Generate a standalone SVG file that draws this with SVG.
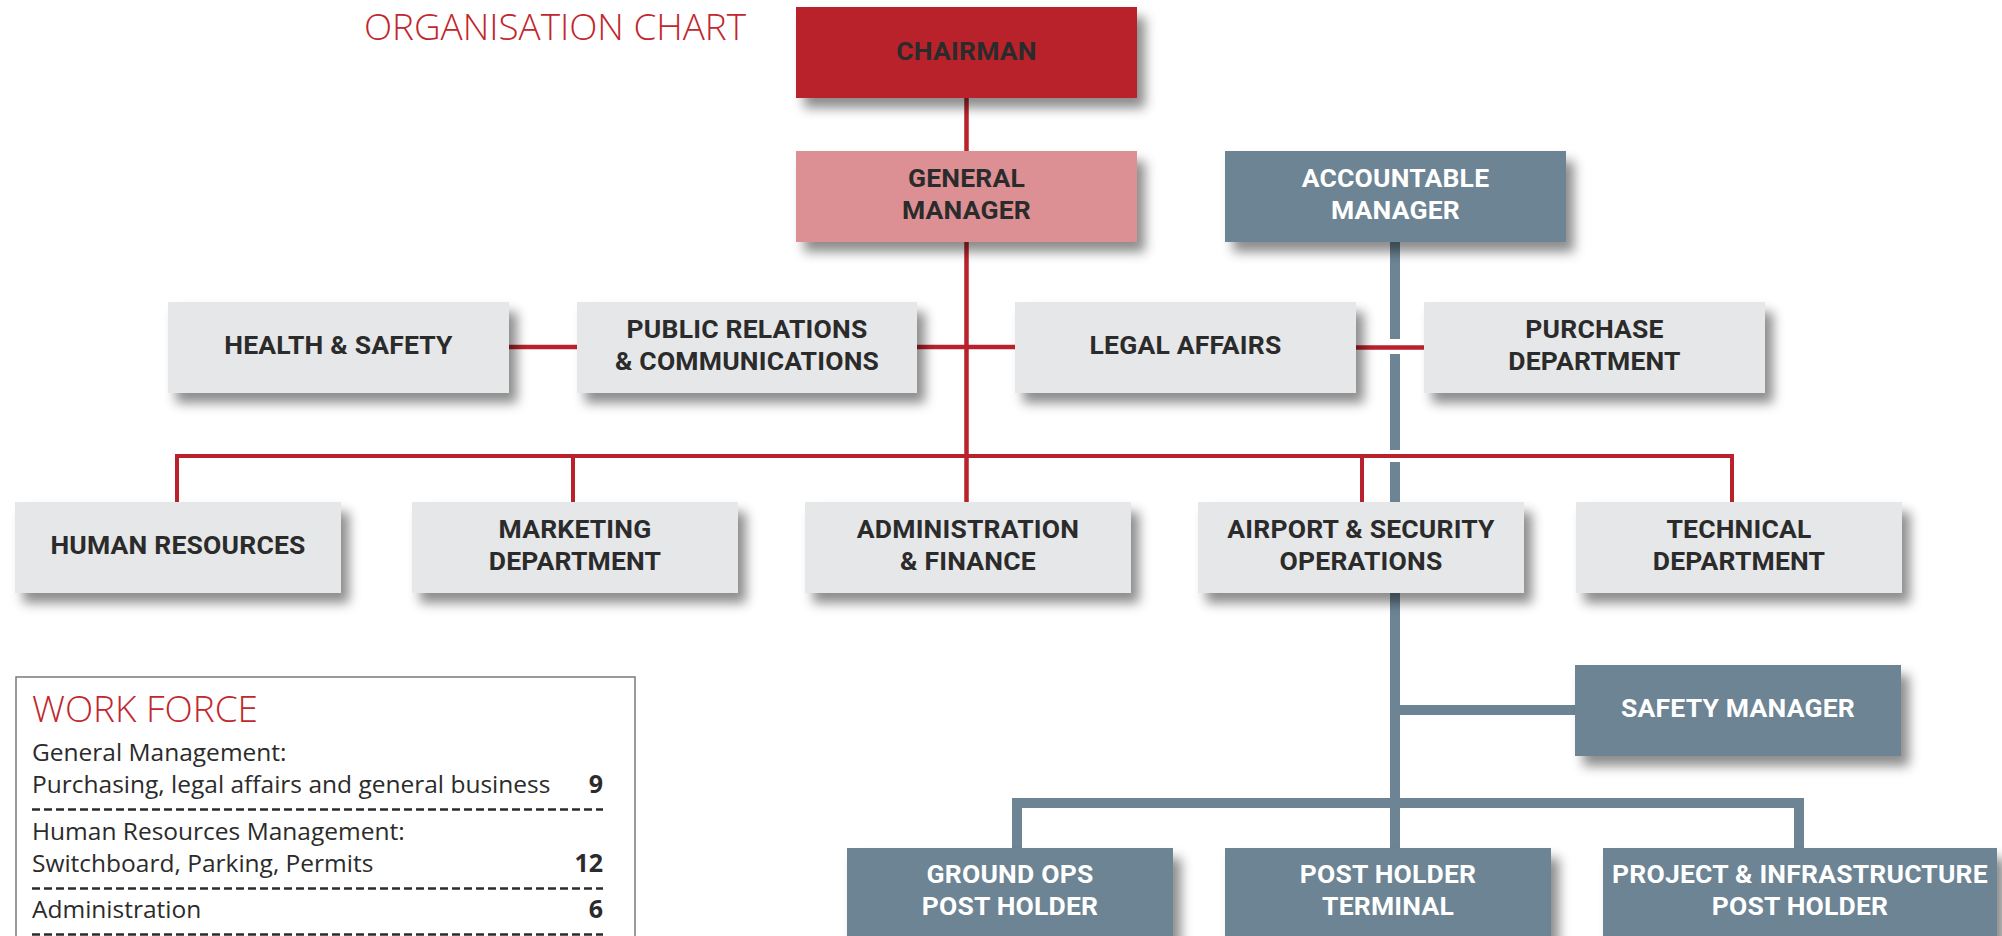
<svg xmlns="http://www.w3.org/2000/svg" width="2002" height="936" viewBox="0 0 2002 936">
<defs>
<filter id="sh" x="-10%" y="-20%" width="130%" height="160%">
<feDropShadow dx="8" dy="10" stdDeviation="6" flood-color="#000" flood-opacity="0.45"/>
</filter>
<style>
.gray{fill:#e6e7e8;filter:url(#sh)}
.blue{fill:#6c8494;filter:url(#sh)}
.lbl{font-family:Roboto,"Open Sans","Liberation Sans",sans-serif;font-weight:700;font-size:26.5px;fill:#2b2b2b;text-anchor:middle;letter-spacing:0.2px}
.wl{fill:#ffffff}
.red{stroke:#b9222c;fill:none}
.bl{stroke:#6c8494;fill:none;stroke-width:10}
.title{font-family:"Open Sans","Liberation Sans",sans-serif;font-weight:300;font-size:36px;fill:#c1272d}
.wf{font-family:"Open Sans","Liberation Sans",sans-serif;font-size:24.5px;fill:#2b2b2b}
.num{font-family:"Open Sans","Liberation Sans",sans-serif;font-weight:700;font-size:25px;fill:#2b2b2b;text-anchor:end}
.dash{stroke:#2b2b2b;stroke-width:2.7;stroke-dasharray:8 4;fill:none}
</style>
</defs>
<rect width="2002" height="936" fill="#ffffff"/>

<text class="title" x="364" y="40" textLength="382" lengthAdjust="spacingAndGlyphs">ORGANISATION CHART</text>

<g id="connectors">
<path class="bl" d="M1395 242V339M1395 354V450M1395 462V848"/>
<path class="bl" d="M1395 710H1575"/>
<path class="bl" d="M1012 803H1804M1017 803V848M1799 803V848"/>
<path class="red" stroke-width="4.5" d="M966.5 98V151"/>
<path class="red" stroke-width="4.5" d="M966.5 242V502"/>
<path class="red" stroke-width="4.5" d="M509 347H577M917 347H1015M1356 347.5H1424"/>
<path class="red" stroke-width="4" d="M177 502V456H1732V502M573 456V502M1362 456V502"/>
</g>

<g id="chairman">
<rect x="796" y="7" width="341" height="91" fill="#b9222c" filter="url(#sh)"/>
<text class="lbl" x="966.5" y="60">CHAIRMAN</text>
</g>
<g id="general-manager">
<rect x="796" y="151" width="341" height="91" fill="#dd9094" filter="url(#sh)"/>
<text class="lbl" x="966.5" y="187">GENERAL</text>
<text class="lbl" x="966.5" y="219">MANAGER</text>
</g>
<g id="accountable-manager">
<rect class="blue" x="1225" y="151" width="341" height="91"/>
<text class="lbl wl" x="1395.5" y="187">ACCOUNTABLE</text>
<text class="lbl wl" x="1395.5" y="219">MANAGER</text>
</g>

<g id="health-safety">
<rect class="gray" x="168" y="302" width="341" height="91"/>
<text class="lbl" x="338.5" y="354">HEALTH &amp; SAFETY</text>
</g>
<g id="public-relations">
<rect class="gray" x="577" y="302" width="340" height="91"/>
<text class="lbl" x="747" y="338">PUBLIC RELATIONS</text>
<text class="lbl" x="747" y="370">&amp; COMMUNICATIONS</text>
</g>
<g id="legal-affairs">
<rect class="gray" x="1015" y="302" width="341" height="91"/>
<text class="lbl" x="1185.5" y="354">LEGAL AFFAIRS</text>
</g>
<g id="purchase">
<rect class="gray" x="1424" y="302" width="341" height="91"/>
<text class="lbl" x="1594.5" y="338">PURCHASE</text>
<text class="lbl" x="1594.5" y="370">DEPARTMENT</text>
</g>

<g id="human-resources">
<rect class="gray" x="15" y="502" width="326" height="91"/>
<text class="lbl" x="178" y="554">HUMAN RESOURCES</text>
</g>
<g id="marketing">
<rect class="gray" x="412" y="502" width="326" height="91"/>
<text class="lbl" x="575" y="538">MARKETING</text>
<text class="lbl" x="575" y="570">DEPARTMENT</text>
</g>
<g id="administration">
<rect class="gray" x="805" y="502" width="326" height="91"/>
<text class="lbl" x="968" y="538">ADMINISTRATION</text>
<text class="lbl" x="968" y="570">&amp; FINANCE</text>
</g>
<g id="airport">
<rect class="gray" x="1198" y="502" width="326" height="91"/>
<text class="lbl" x="1361" y="538">AIRPORT &amp; SECURITY</text>
<text class="lbl" x="1361" y="570">OPERATIONS</text>
</g>
<g id="technical">
<rect class="gray" x="1576" y="502" width="326" height="91"/>
<text class="lbl" x="1739" y="538">TECHNICAL</text>
<text class="lbl" x="1739" y="570">DEPARTMENT</text>
</g>

<g id="safety-manager">
<rect class="blue" x="1575" y="665" width="326" height="91"/>
<text class="lbl wl" x="1738" y="717">SAFETY MANAGER</text>
</g>

<g id="ground-ops">
<rect class="blue" x="847" y="848" width="326" height="91"/>
<text class="lbl wl" x="1010" y="883">GROUND OPS</text>
<text class="lbl wl" x="1010" y="915">POST HOLDER</text>
</g>
<g id="post-holder-terminal">
<rect class="blue" x="1225" y="848" width="326" height="91"/>
<text class="lbl wl" x="1388" y="883">POST HOLDER</text>
<text class="lbl wl" x="1388" y="915">TERMINAL</text>
</g>
<g id="project-infrastructure">
<rect class="blue" x="1603" y="848" width="394" height="91"/>
<text class="lbl wl" x="1800" y="883">PROJECT &amp; INFRASTRUCTURE</text>
<text class="lbl wl" x="1800" y="915">POST HOLDER</text>
</g>

<g id="work-force">
<rect x="16" y="677" width="619" height="280" fill="none" stroke="#7a7a7a" stroke-width="1.5"/>
<text class="title" x="32" y="722" textLength="226" lengthAdjust="spacingAndGlyphs">WORK FORCE</text>
<text class="wf" x="32" y="761">General Management:</text>
<text class="wf" x="32" y="793">Purchasing, legal affairs and general business</text>
<text class="num" x="603" y="793">9</text>
<path class="dash" d="M32 809.5H603"/>
<text class="wf" x="32" y="840">Human Resources Management:</text>
<text class="wf" x="32" y="872">Switchboard, Parking, Permits</text>
<text class="num" x="603" y="872">12</text>
<path class="dash" d="M32 888.5H603"/>
<text class="wf" x="32" y="918">Administration</text>
<text class="num" x="603" y="918">6</text>
<path class="dash" d="M32 934.5H603"/>
</g>
</svg>
